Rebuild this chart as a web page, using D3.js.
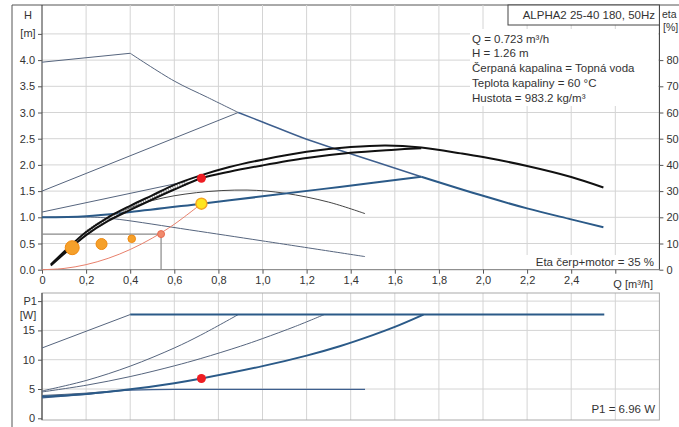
<!DOCTYPE html>
<html>
<head>
<meta charset="utf-8">
<script src="https://cdn.jsdelivr.net/npm/d3@7"></script>
<style>
  body { margin: 0; background: #fff; }
  svg { display: block; font-family: "Liberation Sans", Arial, sans-serif; }
</style>
</head>
<body>
<div id="chart"></div>
<script>
// --- data ---
const qTicks = [0, 0.2, 0.4, 0.6, 0.8, 1.0, 1.2, 1.4, 1.6, 1.8, 2.0, 2.2, 2.4];
const hTicks = [0, 0.5, 1.0, 1.5, 2.0, 2.5, 3.0, 3.5, 4.0];
const etaTicks = [0, 10, 20, 30, 40, 50, 60, 70, 80];
const pTicks = [0, 5, 10, 15];

// H curves [Q, H]
const maxCurveLeft = [[0, 3.96], [0.4, 4.13]];
const maxCurveThin = [[0.4, 4.13], [0.6, 3.6], [0.75, 3.29], [0.89, 3.0]];
const maxCurveMid = [[0.89, 3.0], [1.0, 2.82], [1.2, 2.49], [1.35, 2.28], [1.72, 1.775]];
const maxCurveThick = [[1.72, 1.775], [2.0, 1.41], [2.2, 1.17], [2.4, 0.96], [2.546, 0.81]];
const ppHighLine = [[0, 1.5], [0.89, 3.0]];
const cpLine = [[0, 1.1], [0.65, 1.68]];
const ppCurve = [[0, 1.0], [0.2, 1.02], [0.4, 1.1], [0.723, 1.26], [1.0, 1.4], [1.35, 1.58], [1.72, 1.775]];
const midCurve = [[0.3, 1.02], [0.5, 1.32], [0.7, 1.47], [0.93, 1.52], [1.1, 1.46], [1.3, 1.29], [1.465, 1.07]];
const minCurve = [[0, 1.0], [0.25, 1.0], [0.35, 0.96], [0.67, 0.76], [1.0, 0.55], [1.465, 0.25]];
const etaUpper = [[0.04, 0.1], [0.14, 0.5], [0.2, 0.72], [0.3, 1.0], [0.4, 1.22], [0.5, 1.42], [0.6, 1.62],
  [0.72, 1.8], [0.85, 1.96], [1.0, 2.1], [1.2, 2.25], [1.4, 2.34], [1.56, 2.37], [1.72, 2.33],
  [1.9, 2.22], [2.0, 2.15], [2.2, 1.98], [2.4, 1.77], [2.546, 1.57]];
const etaLower = [[0.04, 0.08], [0.14, 0.45], [0.2, 0.66], [0.3, 0.93], [0.4, 1.14], [0.5, 1.34], [0.6, 1.53],
  [0.723, 1.745], [0.85, 1.87], [1.0, 1.99], [1.2, 2.13], [1.4, 2.23], [1.6, 2.29], [1.72, 2.32]];
const etaHatch = [[0.2, 0.7], [0.3, 0.97], [0.4, 1.18], [0.5, 1.38], [0.6, 1.57], [0.66, 1.66]];
const systemQ = [0, 0.1, 0.2, 0.3, 0.4, 0.5, 0.6, 0.723];
const systemK = 2.41;
const guidePoint = [0.54, 0.68];
const orangeDots = [[0.137, 0.42, 7], [0.27, 0.49, 5.5], [0.407, 0.59, 3.8]];
const dutyQ = 0.723, dutyH = 1.26, dutyEta = 1.745, dutyP1 = 6.96;

// P1 curves [Q, P1]
const pMaxThin = [[0, 12.0], [0.4, 17.7]];
const pMaxFlat = [[0.4, 17.7], [2.55, 17.7]];
const pCurveA = [[0, 4.66], [0.2, 6.45], [0.4, 8.9], [0.6, 12.0], [0.72, 14.2], [0.89, 17.7]];
const pCurveB = [[0, 4.5], [0.2, 5.64], [0.4, 7.12], [0.6, 8.95], [0.72, 10.2], [0.9, 12.3], [1.0, 13.6], [1.15, 15.7], [1.28, 17.7]];
const pCurvePP = [[0, 3.7], [0.2, 4.15], [0.4, 4.95], [0.6, 6.0], [0.723, 6.8], [1.0, 8.9], [1.2, 10.7], [1.35, 12.3], [1.5, 14.2], [1.6, 15.6], [1.73, 17.7]];
const pCurveMin = [[0, 3.5], [0.2, 4.1], [0.4, 4.8], [0.6, 4.95], [1.465, 4.95]];
const pCurveMin2 = [[0, 3.9], [0.2, 4.3], [0.4, 4.9]];

const infoLines = ["Q = 0.723 m³/h", "H = 1.26 m", "Čerpaná kapalina = Topná voda",
  "Teplota kapaliny = 60 °C", "Hustota = 983.2 kg/m³"];

// --- layout ---
const W = 679, H = 427;
const svg = d3.select("#chart").append("svg").attr("width", W).attr("height", H);

const x = d3.scaleLinear().domain([0, 2.8]).range([42, 659.4]);
const yH = d3.scaleLinear().domain([0, 4.5]).range([269.7, 33.9]);
const yEta = d3.scaleLinear().domain([0, 90]).range([269.7, 33.9]);
const yP = d3.scaleLinear().domain([0, 20]).range([418.3, 301.1]);

const gridColor = "#d4d4d4";
const axisColor = "#333";
const thinColor = "#56657e";
const blue = "#2b5a88";
const textColor = "#333";

const smooth = d3.curveCatmullRom.alpha(0.5);
const lineH = d3.line().x(d => x(d[0])).y(d => yH(d[1])).curve(smooth);
const lineP = d3.line().x(d => x(d[0])).y(d => yP(d[1])).curve(smooth);
const lineMonoP = d3.line().x(d => x(d[0])).y(d => yP(d[1])).curve(d3.curveMonotoneX);
const lineStraightH = d3.line().x(d => x(d[0])).y(d => yH(d[1]));
const lineStraightP = d3.line().x(d => x(d[0])).y(d => yP(d[1]));

function styleAxis(g) {
  g.select(".domain").remove();
  g.selectAll("text").attr("font-size", 11).attr("fill", textColor).attr("font-family", "Liberation Sans, Arial");
  g.selectAll("line").attr("stroke", "#555");
}

// outer frame
svg.append("line").attr("x1", 12).attr("x2", W).attr("y1", 5).attr("y2", 5).attr("stroke", "#555");
svg.append("line").attr("x1", 12).attr("x2", 12).attr("y1", 5).attr("y2", H).attr("stroke", "#555");

// ---------- top panel ----------
const topG = svg.append("g");
const topY0 = 5, topY1 = yH(0);

topG.append("g").selectAll("line").data(qTicks.filter(d => d > 0).concat([2.6]))
  .join("line")
  .attr("x1", d => x(d)).attr("x2", d => x(d))
  .attr("y1", topY0).attr("y2", topY1)
  .attr("stroke", gridColor);
topG.append("g").selectAll("line").data(hTicks.filter(d => d > 0).concat([4.5]))
  .join("line")
  .attr("x1", x(0)).attr("x2", x(2.8))
  .attr("y1", d => yH(d)).attr("y2", d => yH(d))
  .attr("stroke", gridColor);

// axes
topG.append("line").attr("x1", x(0)).attr("x2", x(0)).attr("y1", topY0).attr("y2", topY1).attr("stroke", axisColor);
topG.append("line").attr("x1", x(2.8)).attr("x2", x(2.8)).attr("y1", topY0).attr("y2", topY1).attr("stroke", axisColor);
topG.append("line").attr("x1", x(0)).attr("x2", x(2.8)).attr("y1", topY1).attr("y2", topY1).attr("stroke", "#777");

const leftAxisH = d3.axisLeft(yH).tickValues(hTicks.concat([4.5])).tickSize(4)
  .tickFormat(d => d === 4.5 ? "" : d3.format(".1f")(d));
topG.append("g").attr("transform", `translate(${x(0)},0)`).call(leftAxisH).call(styleAxis);
topG.append("text").attr("x", 28).attr("y", 19).attr("text-anchor", "middle").attr("font-size", 11).attr("fill", textColor).text("H");
topG.append("text").attr("x", 28).attr("y", 37).attr("text-anchor", "middle").attr("font-size", 11).attr("fill", textColor).text("[m]");

const rightAxisEta = d3.axisRight(yEta).tickValues(etaTicks).tickSize(4).tickFormat(d3.format("d"));
topG.append("g").attr("transform", `translate(${x(2.8)},0)`).call(rightAxisEta).call(styleAxis);
topG.append("text").attr("x", 662).attr("y", 18).attr("font-size", 10.5).attr("fill", textColor).text("eta");
topG.append("text").attr("x", 663).attr("y", 31).attr("font-size", 10.5).attr("fill", textColor).text("[%]");

const bottomAxisQ = d3.axisBottom(x).tickValues(qTicks.concat([2.6])).tickSize(4)
  .tickFormat(d => d === 2.6 ? "" : (d === 0 ? "0" : d3.format(".1f")(d).replace(".", ",")));
topG.append("g").attr("transform", `translate(0,${topY1})`).call(bottomAxisQ).call(styleAxis);
topG.append("text").attr("x", x(2.6) - 2).attr("y", 288).attr("font-size", 11).attr("fill", textColor).text("Q [m³/h]");

// curves
const curves = topG.append("g").attr("fill", "none");
curves.append("path").attr("d", lineStraightH(maxCurveLeft)).attr("stroke", thinColor).attr("stroke-width", 1);
curves.append("path").attr("d", lineH(maxCurveThin)).attr("stroke", thinColor).attr("stroke-width", 1);
curves.append("path").attr("d", lineStraightH(ppHighLine)).attr("stroke", thinColor).attr("stroke-width", 1);
curves.append("path").attr("d", lineH(maxCurveMid)).attr("stroke", "#3e5f8e").attr("stroke-width", 1.5);
curves.append("path").attr("d", lineH(maxCurveThick)).attr("stroke", blue).attr("stroke-width", 2);
curves.append("path").attr("d", lineStraightH(cpLine)).attr("stroke", thinColor).attr("stroke-width", 1);
curves.append("path").attr("d", lineH(midCurve)).attr("stroke", "#444").attr("stroke-width", 1);
curves.append("path").attr("d", lineH(minCurve)).attr("stroke", thinColor).attr("stroke-width", 1);
curves.append("path").attr("d", lineH(ppCurve)).attr("stroke", blue).attr("stroke-width", 2);

// guide lines for the reduced point
curves.append("path")
  .attr("d", lineStraightH([[0, guidePoint[1]], guidePoint, [guidePoint[0], 0]]))
  .attr("stroke", "#8a8a8a").attr("stroke-width", 1.2);

// system curve
curves.append("path")
  .attr("d", lineH(systemQ.map(q => [q, systemK * q * q])))
  .attr("stroke", "#e8806c").attr("stroke-width", 1);

// efficiency band
curves.append("path").attr("d", lineH(etaHatch)).attr("stroke", "#999").attr("stroke-width", 5).attr("stroke-dasharray", "1,1.5");
curves.append("path").attr("d", lineH(etaUpper)).attr("stroke", "#111").attr("stroke-width", 2);
curves.append("path").attr("d", lineH(etaLower)).attr("stroke", "#111").attr("stroke-width", 2);

// points
topG.append("g").selectAll("circle").data(orangeDots).join("circle")
  .attr("cx", d => x(d[0])).attr("cy", d => yH(d[1])).attr("r", d => d[2])
  .attr("fill", "#f5a02a").attr("stroke", "#f08a10").attr("stroke-width", 1);
topG.append("circle").attr("cx", x(guidePoint[0])).attr("cy", yH(guidePoint[1])).attr("r", 3.5)
  .attr("fill", "#f08a6c").attr("stroke", "#e86a50").attr("stroke-width", 1);
topG.append("circle").attr("cx", x(dutyQ)).attr("cy", yH(dutyH)).attr("r", 5.5)
  .attr("fill", "#ffe620").attr("stroke", "#f5a623").attr("stroke-width", 1.5);
topG.append("circle").attr("cx", x(dutyQ)).attr("cy", yH(dutyEta)).attr("r", 4.5)
  .attr("fill", "#ee1d23");

// title box
topG.append("rect").attr("x", 508).attr("y", 5).attr("width", x(2.8) - 508).attr("height", 20)
  .attr("fill", "#fff").attr("stroke", "#444");
topG.append("text").attr("x", 655).attr("y", 19).attr("text-anchor", "end").attr("font-size", 11.5)
  .attr("fill", textColor).text("ALPHA2 25-40 180, 50Hz");

// info block
topG.append("rect").attr("x", 470).attr("y", 29).attr("width", 188).attr("height", 77).attr("fill", "#fff");
const infoY = [43, 57, 72, 87, 102];
topG.append("g").selectAll("text").data(infoLines).join("text")
  .attr("x", 472).attr("y", (d, i) => infoY[i]).attr("font-size", 11.5).attr("fill", textColor).text(d => d);

// efficiency note
topG.append("rect").attr("x", 521).attr("y", 255).attr("width", 137).attr("height", 14).attr("fill", "#fff");
topG.append("text").attr("x", 654).attr("y", 266).attr("text-anchor", "end").attr("font-size", 11.5)
  .attr("fill", textColor).text("Eta čerp+motor = 35 %");

// ---------- bottom panel ----------
const botG = svg.append("g");
const botY0 = 293, botY1 = 420;

botG.append("g").selectAll("line").data(qTicks.filter(d => d > 0).concat([2.6]))
  .join("line")
  .attr("x1", d => x(d)).attr("x2", d => x(d))
  .attr("y1", botY0).attr("y2", botY1)
  .attr("stroke", gridColor);
botG.append("g").selectAll("line").data(pTicks.filter(d => d > 0).concat([20]))
  .join("line")
  .attr("x1", x(0)).attr("x2", x(2.8))
  .attr("y1", d => yP(d)).attr("y2", d => yP(d))
  .attr("stroke", gridColor);
botG.append("rect").attr("x", x(0)).attr("y", botY0).attr("width", x(2.8) - x(0)).attr("height", botY1 - botY0)
  .attr("fill", "none").attr("stroke", "#aaa");
botG.append("line").attr("x1", x(0)).attr("x2", x(0)).attr("y1", botY0).attr("y2", botY1).attr("stroke", axisColor);

const leftAxisP = d3.axisLeft(yP).tickValues(pTicks.concat([20])).tickSize(4)
  .tickFormat(d => d === 20 ? "" : d3.format("d")(d));
botG.append("g").attr("transform", `translate(${x(0)},0)`).call(leftAxisP).call(styleAxis);
botG.append("text").attr("x", 37).attr("y", yP(20) + 4).attr("text-anchor", "end").attr("font-size", 11).attr("fill", textColor).text("P1");
botG.append("text").attr("x", 28).attr("y", yP(20) + 18).attr("text-anchor", "middle").attr("font-size", 11).attr("fill", textColor).text("[W]");

const pc = botG.append("g").attr("fill", "none");
pc.append("path").attr("d", lineStraightP(pMaxThin)).attr("stroke", thinColor).attr("stroke-width", 1);
pc.append("path").attr("d", lineP(pCurveA)).attr("stroke", thinColor).attr("stroke-width", 1);
pc.append("path").attr("d", lineP(pCurveB)).attr("stroke", thinColor).attr("stroke-width", 1);
pc.append("path").attr("d", lineMonoP(pCurveMin2)).attr("stroke", thinColor).attr("stroke-width", 1);
pc.append("path").attr("d", lineMonoP(pCurveMin)).attr("stroke", "#3e5f8e").attr("stroke-width", 1.3);
pc.append("path").attr("d", lineStraightP(pMaxFlat)).attr("stroke", blue).attr("stroke-width", 2);
pc.append("path").attr("d", lineP(pCurvePP)).attr("stroke", blue).attr("stroke-width", 2);

botG.append("circle").attr("cx", x(dutyQ)).attr("cy", yP(6.8)).attr("r", 4.5).attr("fill", "#ee1d23");

botG.append("text").attr("x", 655).attr("y", 413).attr("text-anchor", "end").attr("font-size", 11.5)
  .attr("fill", textColor).text(`P1 = ${dutyP1} W`);
</script>
</body>
</html>
